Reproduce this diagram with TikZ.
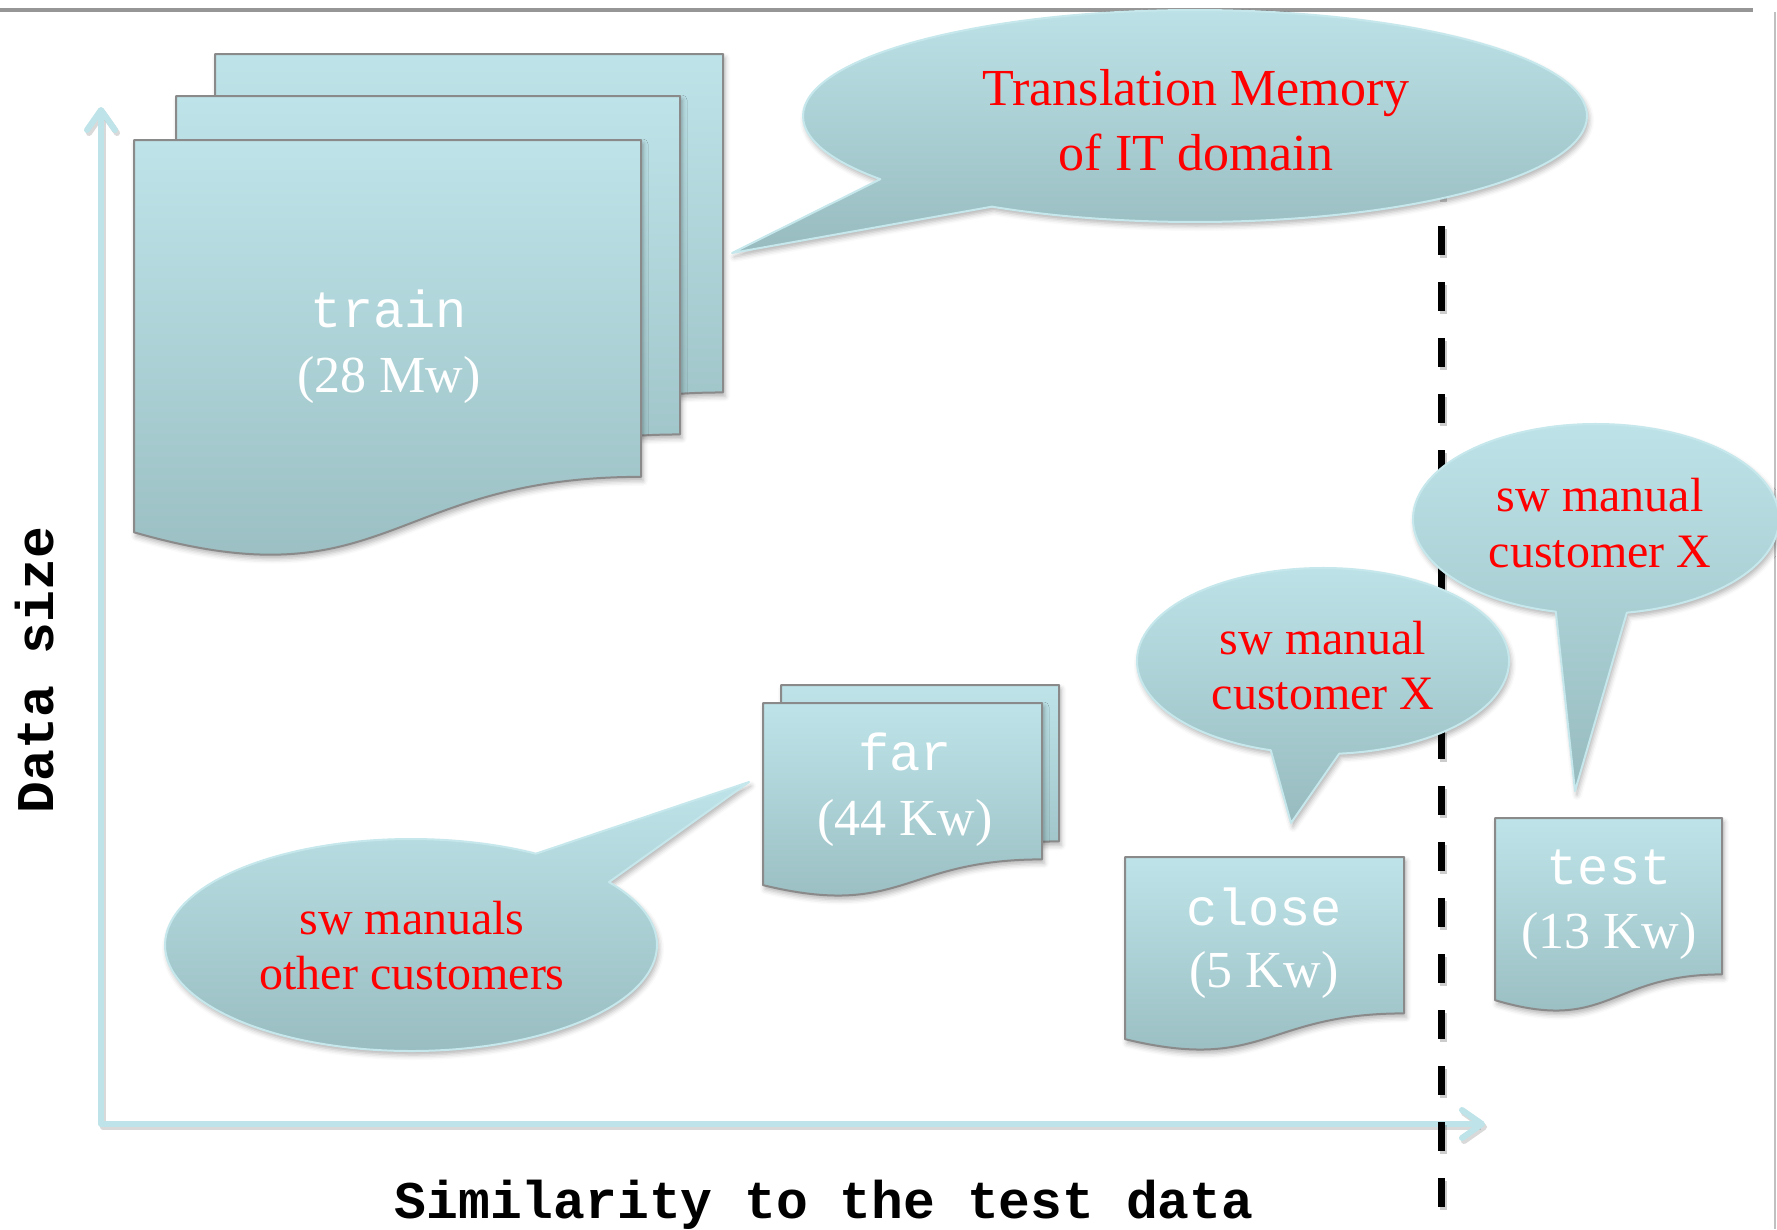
\documentclass[tikz,border=0pt]{standalone}
\usepackage{fontspec}
\setmainfont{Liberation Serif}
\setmonofont{Liberation Mono}
\usetikzlibrary{arrows.meta,shadows.blur}

\definecolor{paletop}{RGB}{190,228,233}
\definecolor{palebot}{RGB}{151,187,191}
\definecolor{docedge}{RGB}{138,138,138}
\definecolor{bubbleedge}{RGB}{198,232,236}
\definecolor{axiscol}{RGB}{190,227,232}
\definecolor{framegray}{RGB}{150,150,150}
\definecolor{labelred}{RGB}{255,0,0}

% Flow-chart "document" sheet: top-left corner (#1,#2), width #3, height #4
\newcommand{\docoutline}[4]{(#1,#2) -- ++(#3,0) -- ++(0,{0.802*#4})
  .. controls ({#1+0.5*#3},{#2+0.802*#4}) and ({#1+0.5*#3},{#2+1.1075*#4})
  .. ({#1},{#2+0.934*#4}) -- cycle}

\tikzset{
  softshadow/.style={blur shadow={shadow xshift=2pt, shadow yshift=-4pt,
      shadow blur radius=5pt, shadow opacity=30}},
  docsheet/.style={draw=docedge, line width=2pt, line join=round,
      top color=paletop, bottom color=palebot, softshadow},
  bubble/.style={draw=bubbleedge, line width=2pt, line join=round,
      top color=paletop, bottom color=palebot, softshadow},
  axisline/.style={draw=axiscol, line width=6pt, line join=round,
      {Straight Barb[length=20pt,width=28pt,round]}-{Straight Barb[length=20pt,width=28pt,round]}},
  cutline/.style={line width=7pt, dash pattern=on 29pt off 27pt},
  sheetword/.style={text=white, anchor=base, inner sep=0pt,
      font=\fontsize{52}{62}\selectfont\ttfamily},
  sheetsize/.style={text=white, anchor=base, inner sep=0pt,
      font=\fontsize{52}{62}\selectfont},
  bigred/.style={text=labelred, anchor=base, inner sep=0pt,
      font=\fontsize{52}{62}\selectfont},
  smallred/.style={text=labelred, anchor=base, inner sep=0pt,
      font=\fontsize{48}{56}\selectfont},
  axislabel/.style={anchor=base, inner sep=0pt,
      font=\fontsize{53}{60}\selectfont\ttfamily\bfseries}
}

\begin{document}
\begin{tikzpicture}[x=1pt, y=-1pt]
\useasboundingbox (0,0) rectangle (1777,1229);

% slide frame
\draw[framegray, line width=4pt] (0,10) -- (1753,10);
\draw[framegray!60, line width=2pt] (1775,12) -- (1775,1229);

% axes
\coordinate (ytip) at (101,107);
\coordinate (xtip) at (1485,1124);
\draw[axisline, draw=black, opacity=0.15, transform canvas={xshift=2pt, yshift=-3pt}] (ytip) |- (xtip);
\draw[axisline] (ytip) |- (xtip);

% boundary of the test data
\coordinate (cuttop) at (1441,170);
\coordinate (cutbot) at (1441,1207);
\draw[cutline, black, opacity=0.2, transform canvas={xshift=2pt, yshift=-3pt}] (cuttop) -- (cutbot);
\draw[cutline] (cuttop) -- (cutbot);

% training corpus: three stacked sheets
\path[docsheet] \docoutline{215}{54}{508}{422};
\path[docsheet] \docoutline{176}{96}{504}{422};
\path[docsheet] \docoutline{134}{140}{507}{420};
\node[sheetword] (trainword) at (389,327) {train};
\node[sheetsize] (trainsize) at (389,392) {(28 Mw)};

% far corpus: two sheets
\path[docsheet] \docoutline{781}{685}{278}{195};
\path[docsheet] \docoutline{763}{703}{279}{195};
\node[sheetword] (farword) at (905,770) {far};
\node[sheetsize] (farsize) at (905,835) {(44 Kw)};

% close corpus
\path[docsheet] \docoutline{1125}{857}{279}{195};
\node[sheetword] (closeword) at (1264,925) {close};
\node[sheetsize] (closesize) at (1264,987) {(5 Kw)};

% test set
\path[docsheet] \docoutline{1495}{818}{227}{195};
\node[sheetword] (testword) at (1609,884) {test};
\node[sheetsize] (testsize) at (1609,948) {(13 Kw)};

% speech bubbles
\coordinate (tmtip) at (732,253);
\path[bubble] (tmtip) -- ({1195+392*cos(143.4)},{116+106*sin(143.4)})
  arc[start angle=-143.4, end angle=-481.2, x radius=392pt, y radius=106pt] -- cycle;
\node[bigred] (tmline1) at (1196,105) {Translation Memory};
\node[bigred] (tmline2) at (1196,170) {of IT domain};

\coordinate (fartip) at (749,782);
\path[bubble] (fartip) -- ({411+246*cos(-36.4)},{945+106*sin(-36.4)})
  arc[start angle=36.4, end angle=-300.5, x radius=246pt, y radius=106pt] -- cycle;
\node[smallred] (farline1) at (412,934) {sw manuals};
\node[smallred] (farline2) at (412,989) {other customers};

\coordinate (closetip) at (1291,823);
\path[bubble] (closetip) -- ({1323+186*cos(106.3)},{661+93*sin(106.3)})
  arc[start angle=-106.3, end angle=-445, x radius=186pt, y radius=93pt] -- cycle;
\node[smallred] (closeline1) at (1323,654) {sw manual};
\node[smallred] (closeline2) at (1323,709) {customer X};

\coordinate (testtip) at (1575,791);
\path[bubble] (testtip) -- ({1596+183*cos(102.7)},{519+95*sin(102.7)})
  arc[start angle=-102.7, end angle=-440.3, x radius=183pt, y radius=95pt] -- cycle;
\node[smallred] (testline1) at (1600,511) {sw manual};
\node[smallred] (testline2) at (1600,567) {customer X};

% axis labels
\node[axislabel, rotate=90] (ylabel) at (53,670) {Data size};
\node[axislabel] (xlabel) at (824,1218) {Similarity to the test data};
\end{tikzpicture}
\end{document}
